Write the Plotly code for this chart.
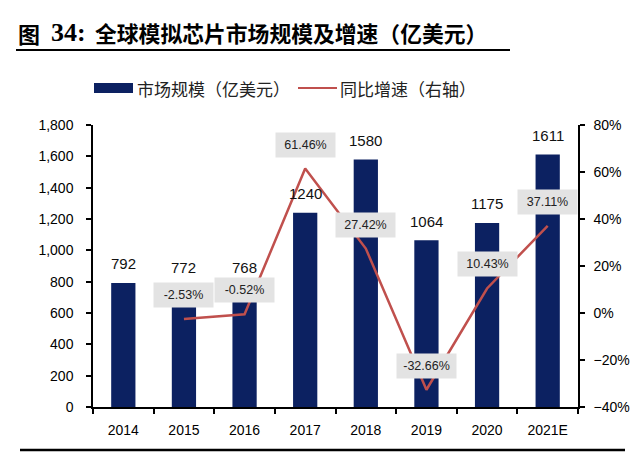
import plotly.graph_objects as go

# ---- data ----
years = ["2014", "2015", "2016", "2017", "2018", "2019", "2020", "2021E"]
market_size_labels = [792, 772, 768, 1240, 1580, 1064, 1175, 1611]
bar_heights = [792, 648, 678, 1240, 1580, 1064, 1175, 1611]   # heights as drawn in the reference
growth = [None, -0.0253, -0.0052, 0.6146, 0.2742, -0.3266, 0.1043, 0.3711]
growth_labels = [None, "-2.53%", "-0.52%", "61.46%", "27.42%", "-32.66%", "10.43%", "37.11%"]

W, H = 640, 452
ML, MR, MT, MB = 93, 62, 125, 45
PW, PH = W - ML - MR, H - MT - MB

def px(x):
    return (x - ML) / PW

def py(y):
    return (H - MB - y) / PH

NAVY = "#0C2161"
RED = "#C0504D"
SANS = "Liberation Sans, Arial, sans-serif"
CJK = "Noto Sans CJK SC, sans-serif"

fig = go.Figure()
fig.add_trace(go.Bar(x=years, y=bar_heights, marker=dict(color=NAVY, line=dict(width=0)),
                     width=0.4, name="市场规模（亿美元）", showlegend=False))
fig.add_trace(go.Scatter(x=years, y=growth, yaxis="y2", mode="lines",
                         line=dict(color=RED, width=2.5), name="同比增速（右轴）",
                         showlegend=False))

ann = []
for i, v in enumerate(market_size_labels):
    ann.append(dict(x=i, y=v, xref="x", yref="y", text=str(v), showarrow=False,
                    yshift=19, yanchor="middle", font=dict(family=SANS, size=15, color="#111")))
for i, (g, t) in enumerate(zip(growth, growth_labels)):
    if g is None:
        continue
    ann.append(dict(x=i, y=g, xref="x", yref="y2", text=t, showarrow=False,
                    yshift=24, yanchor="middle", bgcolor="#E3E3E3", width=57, height=22,
                    font=dict(family=SANS, size=12.5, color="#222")))

# title
ann.append(dict(x=px(16), y=py(33), xref="paper", yref="paper", xanchor="left", yanchor="middle",
                text="<b>图</b>", showarrow=False, font=dict(family=CJK, size=22, color="#000")))
ann.append(dict(x=px(49), y=py(32), xref="paper", yref="paper", xanchor="left", yanchor="middle",
                text="<b>34:</b>", showarrow=False, font=dict(family="Liberation Serif, serif", size=26, color="#000")))
ann.append(dict(x=px(93), y=py(33), xref="paper", yref="paper", xanchor="left", yanchor="middle",
                text="<b>全球模拟芯片市场规模及增速（亿美元）</b>", showarrow=False,
                font=dict(family=CJK, size=21.8, color="#000")))
# legend texts
ann.append(dict(x=px(135), y=py(88), xref="paper", yref="paper", xanchor="left", yanchor="middle",
                text="市场规模（亿美元）", showarrow=False, font=dict(family=CJK, size=17, color="#222")))
ann.append(dict(x=px(338), y=py(88), xref="paper", yref="paper", xanchor="left", yanchor="middle",
                text="同比增速（右轴）", showarrow=False, font=dict(family=CJK, size=17, color="#222")))

shapes = [
    dict(type="line", xref="paper", yref="paper", x0=px(16), x1=px(510), y0=py(50), y1=py(50),
         line=dict(color="#000", width=2)),
    dict(type="line", xref="paper", yref="paper", x0=px(20), x1=px(625), y0=py(450), y1=py(450),
         line=dict(color="#000", width=2.5)),
    dict(type="rect", xref="paper", yref="paper", x0=px(94), x1=px(133), y0=py(93), y1=py(83),
         fillcolor=NAVY, line=dict(width=0)),
    dict(type="line", xref="paper", yref="paper", x0=px(298), x1=px(337), y0=py(88), y1=py(88),
         line=dict(color=RED, width=2)),
]

fig.update_layout(
    width=W, height=H,
    margin=dict(l=ML, r=MR, t=MT, b=MB, pad=0),
    paper_bgcolor="white", plot_bgcolor="white",
    showlegend=False,
    annotations=ann, shapes=shapes,
    xaxis=dict(type="category", range=[-0.5, len(years) - 0.5], automargin=False,
               tickson="boundaries", ticks="outside", ticklen=5, tickwidth=1.5, tickangle=0,
               tickcolor="#000", showline=True, linecolor="#000", linewidth=1.5, showgrid=False,
               tickfont=dict(family=SANS, size=14, color="#000"), ticklabelstandoff=9),
    yaxis=dict(range=[0, 1800], dtick=200, tickformat=",d", ticks="outside", ticklen=5,
               automargin=False,
               tickwidth=1.5, tickcolor="#000", showline=True, linecolor="#000", linewidth=1.5,
               showgrid=False, zeroline=False,
               tickfont=dict(family=SANS, size=14, color="#000"), ticklabelstandoff=10),
    yaxis2=dict(range=[-0.4, 0.8], dtick=0.2, tickformat=".0%", overlaying="y", side="right",
                automargin=False,
                ticks="outside", ticklen=5, tickwidth=1.5, tickcolor="#000", showline=True,
                linecolor="#000", linewidth=1.5, showgrid=False, zeroline=False,
                tickfont=dict(family=SANS, size=14, color="#000"), ticklabelstandoff=6),
)

fig.write_html("out.html", config={"displayModeBar": False},
               post_script="document.body.style.margin='0';document.body.style.overflow='hidden';")
